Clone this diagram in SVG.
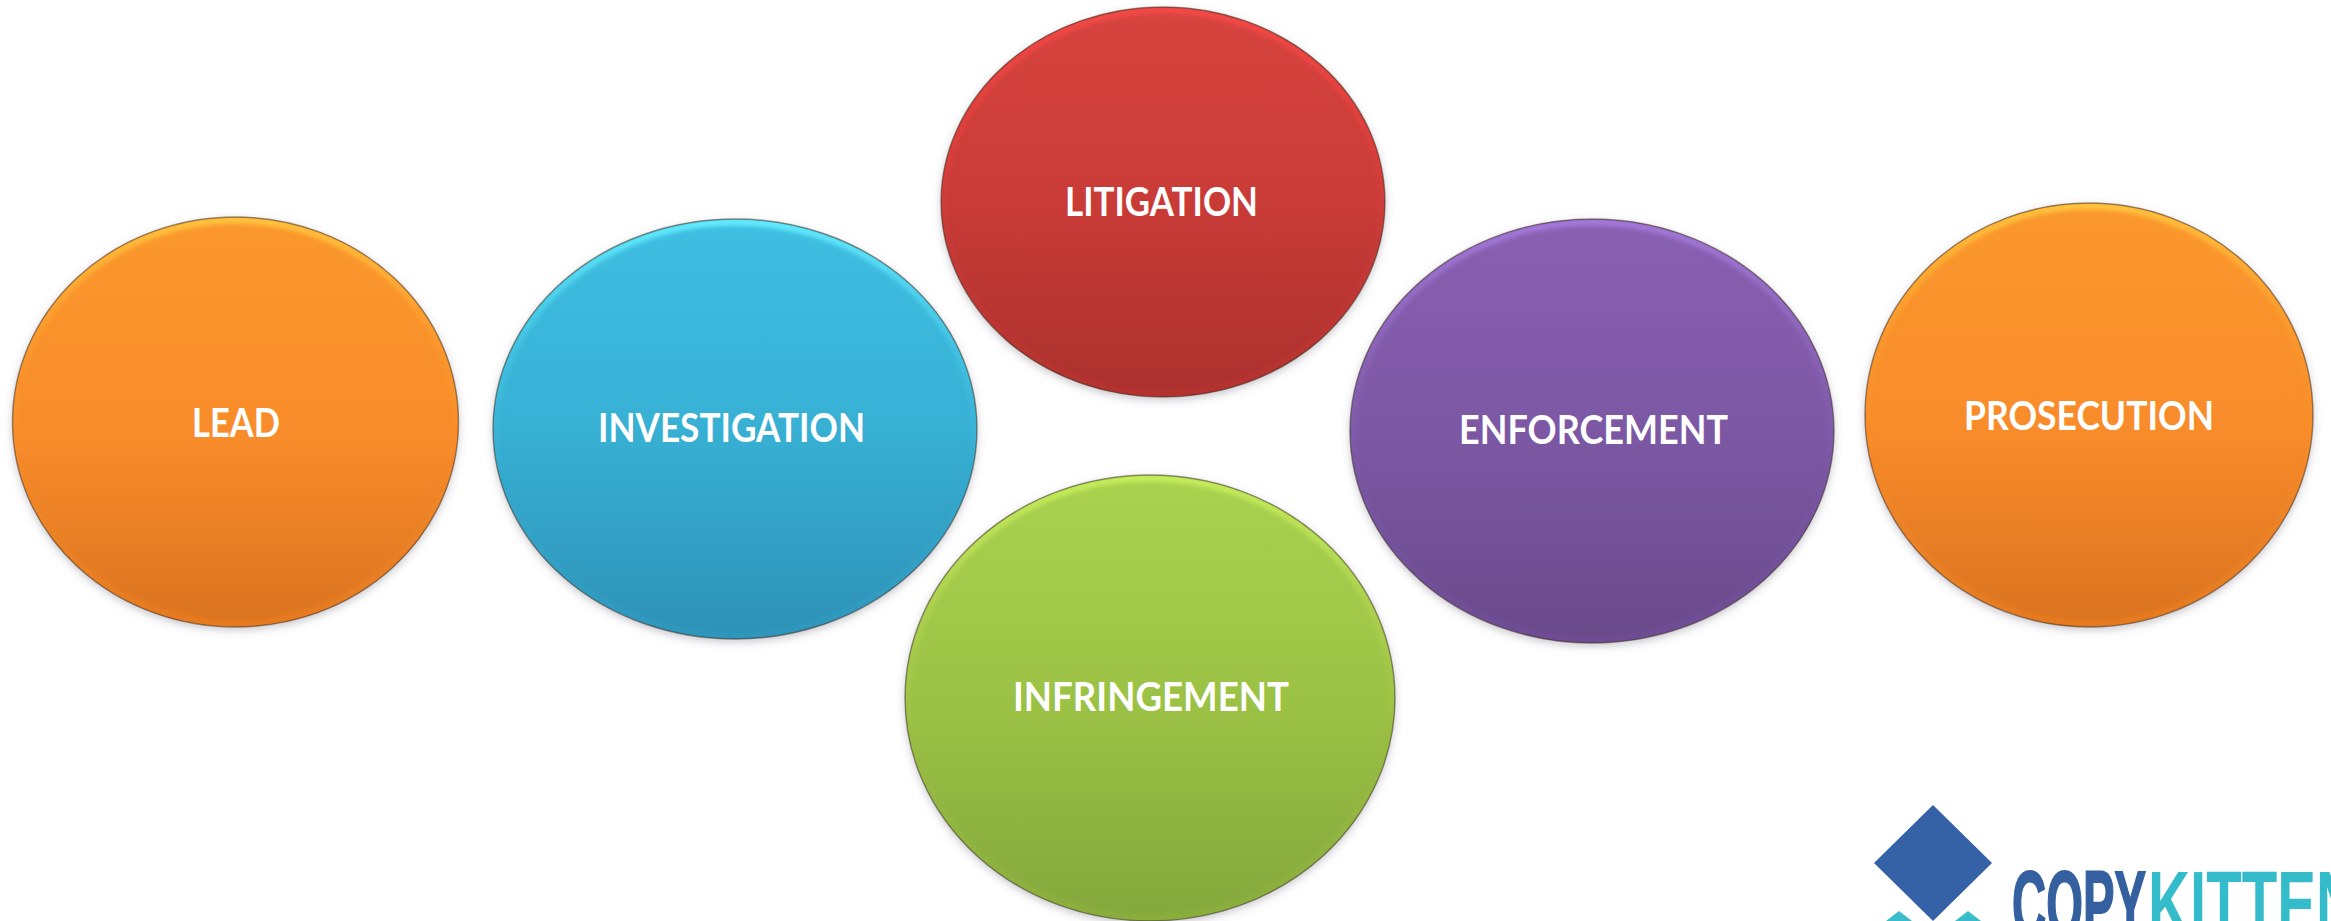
<svg xmlns="http://www.w3.org/2000/svg" width="2331" height="921" viewBox="0 0 2331 921">
<style>
.lbl{font-family:Lato,"Open Sans","Noto Sans","Liberation Sans",sans-serif;font-weight:700;font-size:39.5px;fill:#fff}
.edge{fill:none;stroke:#3a2a1a;stroke-opacity:.5;stroke-width:1.4}
.rim{fill:none;stroke-width:7;filter:url(#soft)}
.shadow{fill:#5a5a70;fill-opacity:.35;filter:url(#drop)}
.logo{font-family:"Liberation Sans Narrow","Liberation Sans",sans-serif;font-weight:700;font-size:92px}
</style>
<defs>
<filter id="soft" x="-5%" y="-5%" width="110%" height="110%"><feGaussianBlur stdDeviation="2.2"/></filter>
<filter id="drop" x="-5%" y="-5%" width="110%" height="110%"><feGaussianBlur stdDeviation="4"/></filter>
<linearGradient id="gO" x1="0" y1="0" x2="0" y2="1"><stop offset="0" stop-color="#fb982d"/><stop offset=".55" stop-color="#f88b2a"/><stop offset="1" stop-color="#da7320"/></linearGradient>
<linearGradient id="gB" x1="0" y1="0" x2="0" y2="1"><stop offset="0" stop-color="#3fbfe2"/><stop offset=".5" stop-color="#37b0d4"/><stop offset="1" stop-color="#2e91b6"/></linearGradient>
<linearGradient id="gR" x1="0" y1="0" x2="0" y2="1"><stop offset="0" stop-color="#d7443f"/><stop offset=".5" stop-color="#c93b37"/><stop offset="1" stop-color="#aa312e"/></linearGradient>
<linearGradient id="gG" x1="0" y1="0" x2="0" y2="1"><stop offset="0" stop-color="#a9d24f"/><stop offset=".5" stop-color="#9cc245"/><stop offset="1" stop-color="#84a73c"/></linearGradient>
<linearGradient id="gP" x1="0" y1="0" x2="0" y2="1"><stop offset="0" stop-color="#8960b2"/><stop offset=".5" stop-color="#7c58a4"/><stop offset="1" stop-color="#694a8a"/></linearGradient>
<linearGradient id="rO" x1="0" y1="0" x2="0" y2="1"><stop offset="0" stop-color="#ffc640"/><stop offset=".3" stop-color="#ffb030" stop-opacity=".25"/><stop offset=".6" stop-color="#ffa030" stop-opacity="0"/><stop offset="1" stop-color="#ff8a20" stop-opacity=".35"/></linearGradient>
<linearGradient id="rB" x1="0" y1="0" x2="0" y2="1"><stop offset="0" stop-color="#66eeff"/><stop offset=".3" stop-color="#50d8f0" stop-opacity=".4"/><stop offset=".6" stop-color="#40c0e0" stop-opacity="0"/><stop offset="1" stop-color="#30a0c8" stop-opacity=".35"/></linearGradient>
<linearGradient id="rR" x1="0" y1="0" x2="0" y2="1"><stop offset="0" stop-color="#f44a48"/><stop offset=".3" stop-color="#f04040" stop-opacity=".5"/><stop offset=".6" stop-color="#e04040" stop-opacity=".1"/><stop offset="1" stop-color="#c83430" stop-opacity=".35"/></linearGradient>
<linearGradient id="rG" x1="0" y1="0" x2="0" y2="1"><stop offset="0" stop-color="#c6ee5c"/><stop offset=".3" stop-color="#bce058" stop-opacity=".4"/><stop offset=".6" stop-color="#b0d050" stop-opacity="0"/><stop offset="1" stop-color="#94bc40" stop-opacity=".35"/></linearGradient>
<linearGradient id="rP" x1="0" y1="0" x2="0" y2="1"><stop offset="0" stop-color="#a47ada"/><stop offset=".3" stop-color="#9a70cc" stop-opacity=".4"/><stop offset=".6" stop-color="#8a60c0" stop-opacity=".1"/><stop offset="1" stop-color="#7a50a8" stop-opacity=".35"/></linearGradient>
<clipPath id="cLead"><ellipse cx="235.5" cy="422" rx="223" ry="205"/></clipPath>
<clipPath id="cInv"><ellipse cx="735" cy="429" rx="242" ry="210"/></clipPath>
<clipPath id="cLit"><ellipse cx="1163" cy="202" rx="222" ry="195"/></clipPath>
<clipPath id="cInf"><ellipse cx="1150" cy="698" rx="245" ry="223"/></clipPath>
<clipPath id="cEnf"><ellipse cx="1592" cy="431" rx="242" ry="212"/></clipPath>
<clipPath id="cPro"><ellipse cx="2089" cy="415" rx="224" ry="212"/></clipPath>
</defs>
<rect width="2331" height="921" fill="#fff"/>
<g id="lead">
<ellipse class="shadow" cx="235.5" cy="425" rx="223" ry="205"/>
<ellipse cx="235.5" cy="422" rx="223" ry="205" fill="url(#gO)"/>
<g clip-path="url(#cLead)"><ellipse class="rim" cx="235.5" cy="422" rx="220" ry="202" stroke="url(#rO)"/></g>
<ellipse class="edge" cx="235.5" cy="422" rx="223" ry="205"/>
<text class="lbl" x="192" y="437" textLength="88" lengthAdjust="spacingAndGlyphs">LEAD</text>
</g>
<g id="investigation">
<ellipse class="shadow" cx="735" cy="432" rx="242" ry="210"/>
<ellipse cx="735" cy="429" rx="242" ry="210" fill="url(#gB)"/>
<g clip-path="url(#cInv)"><ellipse class="rim" cx="735" cy="429" rx="239" ry="207" stroke="url(#rB)"/></g>
<ellipse class="edge" cx="735" cy="429" rx="242" ry="210"/>
<text class="lbl" x="598" y="442" textLength="267" lengthAdjust="spacingAndGlyphs">INVESTIGATION</text>
</g>
<g id="litigation">
<ellipse class="shadow" cx="1163" cy="205" rx="222" ry="195"/>
<ellipse cx="1163" cy="202" rx="222" ry="195" fill="url(#gR)"/>
<g clip-path="url(#cLit)"><ellipse class="rim" cx="1163" cy="202" rx="219" ry="192" stroke="url(#rR)"/></g>
<ellipse class="edge" cx="1163" cy="202" rx="222" ry="195"/>
<text class="lbl" x="1065" y="216" textLength="193" lengthAdjust="spacingAndGlyphs">LITIGATION</text>
</g>
<g id="infringement">
<ellipse class="shadow" cx="1150" cy="701" rx="245" ry="223"/>
<ellipse cx="1150" cy="698" rx="245" ry="223" fill="url(#gG)"/>
<g clip-path="url(#cInf)"><ellipse class="rim" cx="1150" cy="698" rx="242" ry="220" stroke="url(#rG)"/></g>
<ellipse class="edge" cx="1150" cy="698" rx="245" ry="223"/>
<text class="lbl" x="1013" y="711" textLength="276" lengthAdjust="spacingAndGlyphs">INFRINGEMENT</text>
</g>
<g id="enforcement">
<ellipse class="shadow" cx="1592" cy="434" rx="242" ry="212"/>
<ellipse cx="1592" cy="431" rx="242" ry="212" fill="url(#gP)"/>
<g clip-path="url(#cEnf)"><ellipse class="rim" cx="1592" cy="431" rx="239" ry="209" stroke="url(#rP)"/></g>
<ellipse class="edge" cx="1592" cy="431" rx="242" ry="212"/>
<text class="lbl" x="1459" y="444" textLength="269" lengthAdjust="spacingAndGlyphs">ENFORCEMENT</text>
</g>
<g id="prosecution">
<ellipse class="shadow" cx="2089" cy="418" rx="224" ry="212"/>
<ellipse cx="2089" cy="415" rx="224" ry="212" fill="url(#gO)"/>
<g clip-path="url(#cPro)"><ellipse class="rim" cx="2089" cy="415" rx="221" ry="209" stroke="url(#rO)"/></g>
<ellipse class="edge" cx="2089" cy="415" rx="224" ry="212"/>
<text class="lbl" x="1964" y="430" textLength="250" lengthAdjust="spacingAndGlyphs">PROSECUTION</text>
</g>
<g id="logo">
<polygon points="1933,805 1992,863 1933,921 1874,863" fill="#3561a6"/>
<polygon points="1899,911 1912,921 1886,921" fill="#3bbccb"/>
<polygon points="1968,911 1981,921 1955,921" fill="#3bbccb"/>
<text class="logo" x="2012" y="936" textLength="134" lengthAdjust="spacingAndGlyphs" fill="#35609f" stroke="#35609f" stroke-width="2">COPY</text>
<text class="logo" x="2148" y="936" textLength="210" lengthAdjust="spacingAndGlyphs" fill="#35bccb">KITTEN</text>
</g>
</svg>
